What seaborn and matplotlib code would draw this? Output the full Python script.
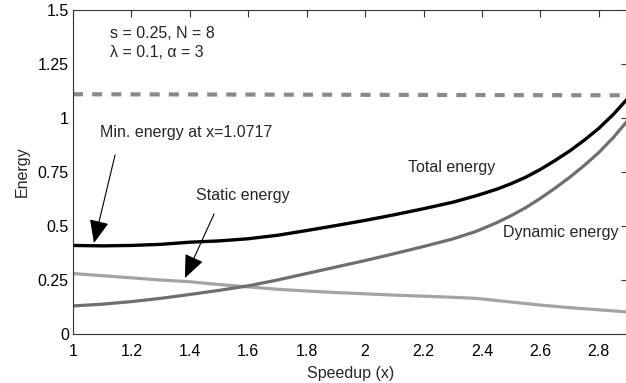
import matplotlib
matplotlib.use("Agg")
import matplotlib.pyplot as plt
import seaborn as sns
import pandas as pd

# Speedup samples
speedup = [1.0, 1.1, 1.2, 1.3, 1.4, 1.5, 1.6, 1.7, 1.8, 1.9, 2.0, 2.1, 2.2, 2.3,
           2.38, 2.45, 2.5, 2.55, 2.6, 2.65, 2.7, 2.75, 2.8, 2.85, 2.9]

static_energy = [0.280, 0.270, 0.260, 0.250, 0.242, 0.229, 0.218, 0.207, 0.199,
                 0.192, 0.186, 0.180, 0.175, 0.170, 0.165, 0.155, 0.148, 0.141,
                 0.134, 0.128, 0.122, 0.117, 0.112, 0.107, 0.102]

dynamic_energy = [0.130, 0.138, 0.150, 0.165, 0.183, 0.202, 0.223, 0.250, 0.280,
                  0.310, 0.340, 0.372, 0.405, 0.440, 0.475, 0.515, 0.548, 0.585,
                  0.628, 0.675, 0.725, 0.780, 0.840, 0.910, 0.990]

total_energy = [0.410, 0.408, 0.410, 0.415, 0.425, 0.431, 0.441, 0.457, 0.479,
                0.502, 0.526, 0.552, 0.580, 0.610, 0.640, 0.670, 0.696, 0.726,
                0.762, 0.803, 0.847, 0.897, 0.952, 1.017, 1.092]

# Reference energy level (dashed)
ref_x = [1.0, 2.9]
ref_energy = [1.11, 1.105]

x_ticks = [1, 1.2, 1.4, 1.6, 1.8, 2, 2.2, 2.4, 2.6, 2.8]
x_tick_labels = ["1", "1.2", "1.4", "1.6", "1.8", "2", "2.2", "2.4", "2.6", "2.8"]
y_ticks = [0, 0.25, 0.5, 0.75, 1, 1.25, 1.5]
y_tick_labels = ["0", "0.25", "0.5", "0.75", "1", "1.25", "1.5"]

sns.set_style("white")
plt.rcParams["font.family"] = ["Liberation Sans", "DejaVu Sans"]

df = pd.DataFrame({
    "speedup": speedup,
    "static": static_energy,
    "dynamic": dynamic_energy,
    "total": total_energy,
})
ref_df = pd.DataFrame({"speedup": ref_x, "energy": ref_energy})

fig = plt.figure(figsize=(6.26, 3.83), dpi=100)
ax = fig.add_axes([73 / 626, 49 / 383, 555 / 626, 324 / 383])

sns.lineplot(data=ref_df, x="speedup", y="energy", ax=ax, color="#8a8a8a",
             linewidth=3.0, dashes=False, linestyle=(0, (2.4, 2.2)))
sns.lineplot(data=df, x="speedup", y="static", ax=ax, color="#a3a3a3", linewidth=2.3)
sns.lineplot(data=df, x="speedup", y="dynamic", ax=ax, color="#6e6e6e", linewidth=2.3)
sns.lineplot(data=df, x="speedup", y="total", ax=ax, color="black", linewidth=2.4)

ax.set_xlim(1, 2.9)
ax.set_ylim(0, 1.5)
ax.set_xticks(x_ticks)
ax.set_xticklabels(x_tick_labels)
ax.set_yticks(y_ticks)
ax.set_yticklabels(y_tick_labels)
ax.tick_params(direction="in", length=5, width=0.8, top=True, right=True,
               labelsize=11.5, colors="#333333", labelcolor="black")
ax.tick_params(axis="x", pad=7.5)
ax.tick_params(axis="y", pad=3)
for side in ["left", "right", "top", "bottom"]:
    ax.spines[side].set_visible(True)
    ax.spines[side].set_color("#333333")
    ax.spines[side].set_linewidth(0.8)

ax.set_xlabel("Speedup (x)", fontsize=11.5, labelpad=5)
ax.set_ylabel("Energy", fontsize=11.5, labelpad=6)

fs = 11.5
ax.text(1.127, 1.393, "s = 0.25, N = 8", fontsize=fs, va="center", ha="left")
ax.text(1.127, 1.301, "λ = 0.1, α = 3", fontsize=fs, va="center", ha="left")
ax.text(1.092, 0.931, "Min. energy at x=1.0717", fontsize=fs, va="center", ha="left")
ax.text(1.421, 0.639, "Static energy", fontsize=fs, va="center", ha="left")
ax.text(2.146, 0.769, "Total energy", fontsize=fs, va="center", ha="left")
ax.text(2.472, 0.472, "Dynamic energy", fontsize=fs, va="center", ha="left")

arrow_style = dict(arrowstyle="-|>,head_length=0.9,head_width=0.38", color="black",
                   lw=0.8, shrinkA=0, shrinkB=0, mutation_scale=16)
ax.annotate("", xy=(1.0717, 0.421), xytext=(1.144, 0.829), arrowprops=arrow_style)
ax.annotate("", xy=(1.383, 0.259), xytext=(1.483, 0.556), arrowprops=arrow_style)

fig.savefig("out.png", dpi=100)
